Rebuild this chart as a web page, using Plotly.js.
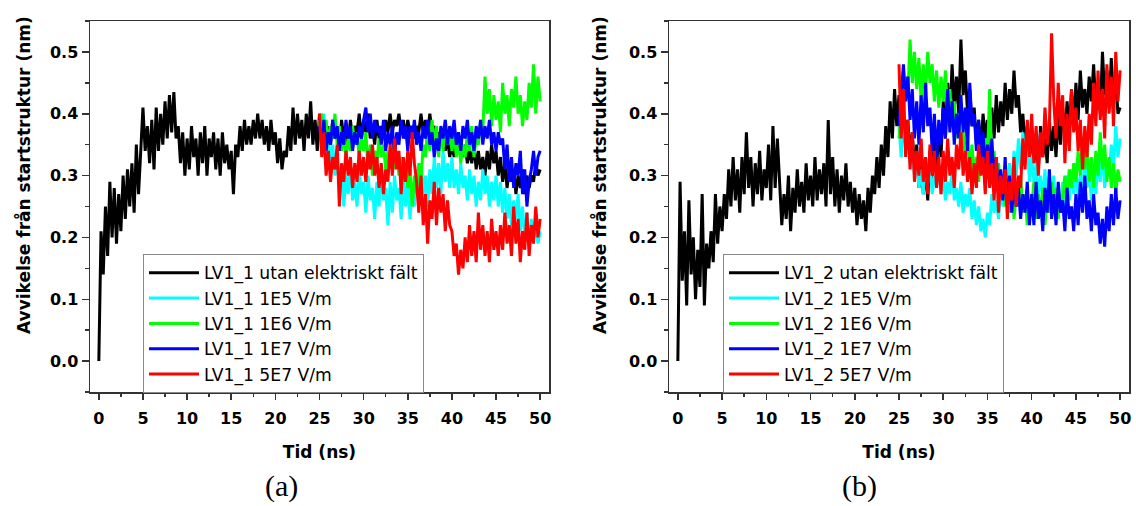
<!DOCTYPE html>
<html>
<head>
<meta charset="utf-8">
<script src="https://cdn.plot.ly/plotly-3.0.1.min.js"></script>
<style>html,body{margin:0;padding:0;background:#fff}#chart{width:1136px;height:506px}</style>
</head>
<body>
<div id="chart"></div>
<script>
// Sampling: black traces 0..50 ns, field traces 25..50 ns, every 0.25 ns
const step = 0.25;
const blackStart = 0;
const fieldStart = 25;

const seriesNamesA = ["LV1_1 utan elektriskt fält", "LV1_1 1E5 V/m", "LV1_1 1E6 V/m", "LV1_1 1E7 V/m", "LV1_1 5E7 V/m"];
const seriesNamesB = ["LV1_2 utan elektriskt fält", "LV1_2 1E5 V/m", "LV1_2 1E6 V/m", "LV1_2 1E7 V/m", "LV1_2 5E7 V/m"];
const seriesColors = ["#000000", "#00FFFF", "#00FF00", "#0000FF", "#FF0000"];
const xTicks = [0, 5, 10, 15, 20, 25, 30, 35, 40, 45, 50];
const yTicks = [0.0, 0.1, 0.2, 0.3, 0.4, 0.5];
const captions = ["(a)", "(b)"];

// ---- panel (a) ----
const a_black = [
0.00,0.21,0.14,0.25,0.17,0.29,0.20,0.28,0.19,0.27,0.21,0.30,0.23,0.31,0.25,0.32,0.24,0.35,0.27,0.35,
0.41,0.34,0.38,0.32,0.39,0.31,0.41,0.34,0.40,0.35,0.42,0.36,0.43,0.37,0.435,0.36,0.38,0.32,0.37,0.30,
0.36,0.31,0.38,0.33,0.36,0.30,0.37,0.32,0.38,0.30,0.36,0.33,0.37,0.31,0.36,0.30,0.37,0.32,0.35,0.31,
0.34,0.27,0.35,0.33,0.38,0.34,0.39,0.35,0.38,0.35,0.39,0.36,0.40,0.36,0.39,0.35,0.38,0.34,0.39,0.35,
0.37,0.32,0.36,0.31,0.34,0.33,0.38,0.34,0.41,0.35,0.40,0.36,0.39,0.34,0.40,0.36,0.42,0.35,0.39,0.34,
0.40,0.36,0.39,0.35,0.38,0.35,0.39,0.36,0.38,0.34,0.39,0.36,0.38,0.35,0.39,0.36,0.38,0.37,0.40,0.36,
0.39,0.37,0.40,0.36,0.38,0.35,0.39,0.36,0.38,0.36,0.39,0.37,0.40,0.37,0.39,0.38,0.40,0.37,0.39,0.36,
0.39,0.37,0.38,0.36,0.38,0.37,0.40,0.37,0.39,0.37,0.40,0.37,0.38,0.36,0.37,0.35,0.37,0.34,0.36,0.33,
0.35,0.33,0.36,0.34,0.36,0.33,0.35,0.32,0.34,0.32,0.35,0.31,0.34,0.31,0.33,0.30,0.34,0.31,0.35,0.32,
0.34,0.30,0.33,0.29,0.32,0.28,0.31,0.29,0.31,0.27,0.30,0.28,0.31,0.27,0.30,0.28,0.30,0.29,0.32,0.30,
0.31];
const a_1e5 = [
0.39,0.36,0.40,0.33,0.37,0.31,0.35,0.30,0.33,0.28,0.31,0.25,0.30,0.27,0.32,0.26,0.29,0.25,0.31,0.27,
0.29,0.24,0.30,0.26,0.28,0.23,0.29,0.25,0.31,0.26,0.28,0.22,0.29,0.24,0.30,0.26,0.28,0.23,0.30,0.25,
0.29,0.23,0.28,0.25,0.31,0.26,0.32,0.27,0.30,0.25,0.31,0.27,0.33,0.28,0.32,0.27,0.34,0.29,0.32,0.28,
0.33,0.28,0.31,0.27,0.32,0.28,0.30,0.26,0.31,0.27,0.30,0.25,0.29,0.26,0.31,0.27,0.30,0.25,0.29,0.26,
0.30,0.25,0.29,0.24,0.28,0.23,0.27,0.22,0.26,0.23,0.27,0.21,0.25,0.20,0.24,0.19,0.23,0.20,0.22,0.19,
0.21];
const a_1e6 = [
0.38,0.40,0.36,0.39,0.35,0.38,0.36,0.40,0.35,0.38,0.34,0.37,0.33,0.36,0.34,0.38,0.35,0.37,0.33,0.36,
0.34,0.37,0.31,0.35,0.30,0.34,0.32,0.36,0.33,0.35,0.31,0.34,0.32,0.36,0.31,0.34,0.30,0.33,0.29,0.32,
0.28,0.31,0.25,0.30,0.27,0.32,0.29,0.35,0.33,0.38,0.34,0.39,0.35,0.38,0.33,0.37,0.34,0.39,0.35,0.38,
0.34,0.37,0.33,0.36,0.32,0.35,0.33,0.37,0.34,0.38,0.33,0.36,0.35,0.39,0.37,0.46,0.40,0.44,0.38,0.43,
0.39,0.42,0.37,0.45,0.40,0.43,0.38,0.44,0.41,0.46,0.40,0.43,0.38,0.42,0.39,0.45,0.41,0.48,0.40,0.46,
0.42];
const a_1e7 = [
0.38,0.35,0.39,0.34,0.37,0.35,0.39,0.36,0.38,0.34,0.37,0.35,0.39,0.36,0.38,0.34,0.37,0.35,0.38,0.36,
0.39,0.41,0.37,0.40,0.36,0.39,0.37,0.38,0.35,0.39,0.34,0.37,0.35,0.38,0.33,0.37,0.35,0.39,0.36,0.38,
0.34,0.38,0.36,0.39,0.35,0.37,0.34,0.38,0.36,0.39,0.35,0.37,0.33,0.36,0.34,0.38,0.36,0.39,0.35,0.38,
0.36,0.39,0.35,0.37,0.34,0.38,0.36,0.39,0.35,0.37,0.34,0.38,0.36,0.39,0.35,0.38,0.36,0.39,0.35,0.37,
0.34,0.37,0.35,0.36,0.31,0.35,0.29,0.33,0.28,0.32,0.30,0.34,0.27,0.31,0.25,0.29,0.31,0.34,0.30,0.33,
0.34];
const a_5e7 = [
0.40,0.33,0.37,0.30,0.34,0.29,0.33,0.31,0.35,0.25,0.32,0.29,0.34,0.30,0.33,0.28,0.32,0.29,0.34,0.30,
0.33,0.29,0.34,0.31,0.35,0.30,0.33,0.28,0.32,0.27,0.31,0.29,0.35,0.30,0.36,0.31,0.34,0.27,0.33,0.29,
0.34,0.30,0.37,0.32,0.29,0.24,0.30,0.22,0.27,0.19,0.26,0.23,0.29,0.22,0.28,0.24,0.27,0.21,0.26,0.22,
0.21,0.17,0.19,0.14,0.18,0.15,0.20,0.16,0.22,0.17,0.21,0.16,0.24,0.18,0.22,0.17,0.21,0.16,0.23,0.18,
0.21,0.17,0.22,0.18,0.24,0.19,0.22,0.17,0.25,0.19,0.23,0.16,0.21,0.18,0.24,0.17,0.22,0.19,0.25,0.20,
0.23];

// ---- panel (b) ----
const b_black = [
0.00,0.29,0.13,0.21,0.09,0.26,0.14,0.20,0.10,0.18,0.12,0.27,0.09,0.19,0.15,0.21,0.16,0.27,0.19,0.25,
0.21,0.27,0.23,0.31,0.25,0.33,0.26,0.31,0.24,0.33,0.27,0.37,0.28,0.33,0.25,0.32,0.27,0.34,0.26,0.31,
0.28,0.35,0.26,0.38,0.28,0.36,0.29,0.22,0.27,0.23,0.30,0.21,0.28,0.24,0.31,0.25,0.29,0.24,0.32,0.26,
0.30,0.25,0.33,0.26,0.31,0.27,0.32,0.25,0.39,0.27,0.33,0.25,0.31,0.24,0.30,0.26,0.32,0.25,0.29,0.24,
0.28,0.22,0.27,0.23,0.26,0.21,0.28,0.24,0.30,0.27,0.33,0.28,0.35,0.30,0.38,0.33,0.42,0.36,0.44,0.38,
0.43,0.37,0.41,0.35,0.39,0.33,0.37,0.31,0.35,0.28,0.33,0.27,0.31,0.26,0.34,0.29,0.36,0.31,0.38,0.33,
0.42,0.36,0.45,0.39,0.48,0.41,0.46,0.40,0.52,0.43,0.47,0.40,0.44,0.38,0.41,0.35,0.39,0.34,0.40,0.36,
0.39,0.34,0.41,0.36,0.43,0.37,0.42,0.38,0.45,0.39,0.44,0.40,0.47,0.41,0.43,0.37,0.40,0.35,0.38,0.33,
0.37,0.32,0.36,0.31,0.38,0.33,0.36,0.32,0.39,0.34,0.38,0.33,0.40,0.35,0.41,0.36,0.42,0.37,0.44,0.38,
0.45,0.39,0.47,0.41,0.44,0.40,0.46,0.42,0.48,0.41,0.45,0.40,0.50,0.43,0.47,0.41,0.49,0.42,0.46,0.40,
0.41];
const b_1e5 = [
0.38,0.33,0.40,0.34,0.37,0.32,0.35,0.30,0.33,0.28,0.31,0.27,0.33,0.29,0.32,0.27,0.30,0.28,0.32,0.27,
0.30,0.26,0.29,0.27,0.31,0.26,0.28,0.25,0.29,0.24,0.27,0.25,0.28,0.23,0.26,0.22,0.25,0.21,0.23,0.20,
0.24,0.22,0.27,0.24,0.26,0.23,0.28,0.25,0.30,0.27,0.32,0.28,0.34,0.30,0.36,0.31,0.37,0.32,0.35,0.29,
0.33,0.29,0.32,0.27,0.30,0.26,0.31,0.25,0.29,0.26,0.30,0.24,0.28,0.25,0.29,0.24,0.30,0.26,0.31,0.27,
0.32,0.26,0.30,0.27,0.33,0.28,0.31,0.26,0.30,0.27,0.33,0.29,0.34,0.28,0.32,0.30,0.35,0.31,0.38,0.33,
0.36];
const b_1e6 = [
0.36,0.40,0.38,0.46,0.43,0.52,0.45,0.50,0.44,0.49,0.42,0.48,0.43,0.50,0.45,0.48,0.42,0.47,0.41,0.46,
0.42,0.47,0.40,0.44,0.38,0.42,0.36,0.40,0.34,0.37,0.33,0.36,0.31,0.35,0.30,0.33,0.29,0.34,0.31,0.36,
0.33,0.44,0.31,0.34,0.28,0.32,0.27,0.30,0.25,0.29,0.24,0.28,0.23,0.27,0.25,0.30,0.24,0.27,0.22,0.26,
0.25,0.29,0.23,0.27,0.24,0.28,0.22,0.26,0.24,0.29,0.25,0.28,0.23,0.27,0.26,0.30,0.27,0.31,0.28,0.32,
0.29,0.34,0.30,0.36,0.31,0.35,0.29,0.33,0.28,0.34,0.30,0.37,0.31,0.35,0.29,0.33,0.28,0.32,0.27,0.31,
0.29];
const b_1e7 = [
0.38,0.44,0.48,0.42,0.46,0.39,0.44,0.36,0.42,0.35,0.43,0.37,0.45,0.38,0.41,0.34,0.40,0.33,0.39,0.35,
0.41,0.36,0.44,0.37,0.42,0.35,0.40,0.36,0.43,0.37,0.41,0.34,0.45,0.38,0.40,0.34,0.39,0.32,0.37,0.31,
0.35,0.30,0.36,0.29,0.33,0.27,0.31,0.26,0.33,0.25,0.30,0.24,0.29,0.25,0.28,0.23,0.27,0.24,0.29,0.22,
0.27,0.22,0.29,0.23,0.26,0.21,0.28,0.24,0.31,0.23,0.27,0.22,0.29,0.24,0.26,0.21,0.28,0.23,0.25,0.21,
0.27,0.22,0.29,0.24,0.30,0.23,0.26,0.21,0.27,0.22,0.24,0.19,0.23,0.185,0.25,0.21,0.27,0.22,0.28,0.23,
0.26];
const b_5e7 = [
0.48,0.36,0.44,0.33,0.39,0.31,0.37,0.29,0.34,0.30,0.36,0.29,0.33,0.27,0.35,0.30,0.34,0.28,0.33,0.27,
0.34,0.29,0.36,0.30,0.33,0.28,0.35,0.31,0.37,0.30,0.34,0.29,0.33,0.27,0.32,0.28,0.35,0.30,0.33,0.27,
0.34,0.28,0.32,0.26,0.33,0.24,0.30,0.27,0.31,0.23,0.29,0.26,0.33,0.25,0.30,0.28,0.36,0.31,0.39,0.33,
0.40,0.32,0.38,0.30,0.37,0.33,0.41,0.35,0.38,0.53,0.42,0.36,0.45,0.38,0.43,0.32,0.40,0.34,0.44,0.37,
0.41,0.34,0.39,0.31,0.38,0.33,0.40,0.35,0.45,0.38,0.47,0.39,0.44,0.36,0.48,0.40,0.46,0.38,0.50,0.42,
0.47];

function timeGrid(start, n) { const t = []; for (let i = 0; i < n; i++) t.push(start + i * step); return t; }

const panelA = [a_black, a_1e5, a_1e6, a_1e7, a_5e7];
const panelB = [b_black, b_1e5, b_1e6, b_1e7, b_5e7];

const FONT = "DejaVu Sans, Arial, sans-serif";
const traces = [];
function addPanel(vals, names, xa, ya, leg) {
  vals.forEach((v, i) => {
    traces.push({
      type: "scatter", mode: "lines",
      x: timeGrid(i === 0 ? blackStart : fieldStart, v.length), y: v,
      name: names[i], xaxis: xa, yaxis: ya, legend: leg,
      line: { color: seriesColors[i], width: 3 },
      hoverinfo: "skip"
    });
  });
}
addPanel(panelA, seriesNamesA, "x", "y", "legend");
addPanel(panelB, seriesNamesB, "x2", "y2", "legend2");

function xAxis(domain, anchor) {
  return {
    domain: domain, anchor: anchor, range: [-1, 51],
    tickvals: xTicks, ticktext: xTicks.map(String),
    ticks: "outside", ticklen: 6, tickwidth: 1.5, tickcolor: "#333",
    minor: { ticks: "outside", ticklen: 3, tickwidth: 1.5, tickcolor: "#333", dtick: 2.5, tick0: 0, showgrid: false },
    showline: true, linecolor: "#333", linewidth: 1.5, mirror: true,
    showgrid: false, zeroline: false, ticklabelstandoff: 5,
    tickfont: { family: FONT, size: 16, weight: "bold", color: "#000" },
    title: { text: "Tid (ns)", font: { family: FONT, size: 17, weight: "bold", color: "#000" }, standoff: 19 }
  };
}
function yAxis(domain, anchor) {
  return {
    domain: domain, anchor: anchor, range: [-0.05, 0.55],
    tickvals: yTicks, ticktext: yTicks.map(v => v.toFixed(1)),
    ticks: "outside", ticklen: 7, tickwidth: 1.5, tickcolor: "#333",
    minor: { ticks: "outside", ticklen: 4, tickwidth: 1.5, tickcolor: "#333", dtick: 0.05, tick0: 0, showgrid: false },
    showline: true, linecolor: "#333", linewidth: 1.5, mirror: true,
    showgrid: false, zeroline: false,
    tickfont: { family: FONT, size: 16, weight: "bold", color: "#000" }
  };
}

const W = 1136, H = 506;
const yDom = [1 - 392 / H, 1 - 21 / H];
function legendAt(px, py) {
  return {
    x: px / W, y: 1 - py / H, xanchor: "left", yanchor: "top",
    bgcolor: "#fff", bordercolor: "#888", borderwidth: 1,
    font: { family: FONT, size: 17.2, color: "#000" },
    itemwidth: 50, tracegroupgap: 0
  };
}

const capFont = { family: "Liberation Serif, DejaVu Serif, serif", size: 30, color: "#000" };
const titleFont = { family: FONT, size: 17, weight: "bold", color: "#000" };

const layout = {
  width: W, height: H,
  margin: { l: 0, r: 0, t: 0, b: 0 },
  paper_bgcolor: "#fff", plot_bgcolor: "#fff",
  showlegend: true,
  xaxis: xAxis([90 / W, 549 / W], "y"),
  yaxis: yAxis(yDom, "x"),
  xaxis2: xAxis([669 / W, 1129 / W], "y2"),
  yaxis2: yAxis(yDom, "x2"),
  legend: legendAt(143, 254),
  legend2: legendAt(723, 254),
  annotations: [
    { text: "Avvikelse från startstruktur (nm)", textangle: -90, xref: "paper", yref: "paper",
      x: 23 / W, y: 1 - 175 / H, xanchor: "center", yanchor: "middle", showarrow: false, font: titleFont },
    { text: "Avvikelse från startstruktur (nm)", textangle: -90, xref: "paper", yref: "paper",
      x: 599 / W, y: 1 - 175 / H, xanchor: "center", yanchor: "middle", showarrow: false, font: titleFont },
    { text: captions[0], xref: "paper", yref: "paper", x: 281 / W, y: 1 - 486 / H,
      xanchor: "center", yanchor: "middle", showarrow: false, font: capFont },
    { text: captions[1], xref: "paper", yref: "paper", x: 859 / W, y: 1 - 486 / H,
      xanchor: "center", yanchor: "middle", showarrow: false, font: capFont }
  ]
};

Plotly.newPlot("chart", traces, layout, { staticPlot: true, displayModeBar: false });
</script>
</body>
</html>
